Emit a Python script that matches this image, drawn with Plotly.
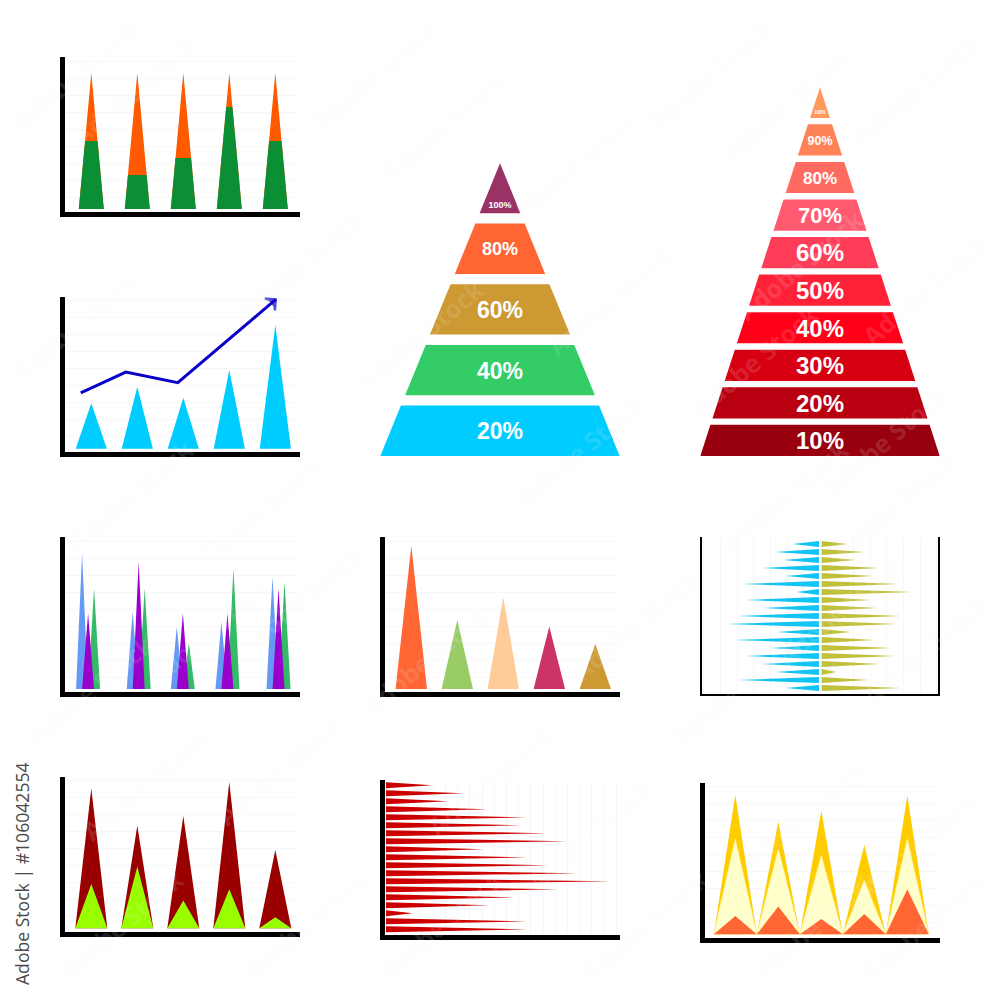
import plotly.graph_objects as go

# ---------- data ----------
cats = [1, 2, 3, 4, 5]

stack_green = [4, 2, 3, 6, 4]
stack_orange = [4, 6, 5, 2, 4]

trend_bars = [2.67, 3.65, 3.0, 4.63, 7.27]
trend_line_x = [0.77, 1.75, 2.88, 5.01]
trend_line_y = [3.29, 4.51, 3.88, 8.78]

group_pos = [0.93, 2.03, 2.99, 3.96, 5.07]
group_blue = [7.98, 4.55, 3.67, 3.96, 6.6]
group_purple = [4.45, 7.49, 4.45, 4.45, 5.92]
group_green = [5.92, 5.92, 2.69, 7.1, 6.31]

color_vals = [8.41, 4.06, 5.39, 3.67, 2.65]
color_cols = ["#ff6633", "#99cc66", "#ffcc99", "#cc3366", "#cc9933"]

nested_outer = [8.24, 6.04, 6.6, 8.6, 4.6]
nested_inner = [2.6, 3.63, 1.63, 2.3, 0.65]

red_bars = [3.79, 6.33, 5.1, 8.28, 11.5, 11.1, 13.2, 14.9, 8.0, 11.6, 13.3, 15.7,
            18.5, 14.1, 10.5, 8.4, 2.2, 11.6, 11.6]

butterfly_left = [2.15, 3.6, 2.9, 4.7, 2.7, 6.3, 1.83, 5.95, 4.55, 6.6, 7.55, 3.4,
                  7.0, 3.95, 6.0, 4.8, 3.55, 6.6, 2.7]
butterfly_right = [2.13, 3.5, 2.76, 4.69, 4.2, 6.27, 7.5, 4.0, 4.5, 6.54, 6.14, 2.39,
                   4.3, 5.7, 6.0, 4.76, 1.2, 3.86, 6.54]

mount_yellow = [8.2, 6.63, 7.27, 5.25, 8.16]
mount_pale = [5.6, 5.02, 4.63, 3.16, 5.6]
mount_orange = [1.08, 1.63, 0.9, 1.2, 2.65]

pyr5_labels = ["20%", "40%", "60%", "80%", "100%"]
pyr5_colors = ["#00ccff", "#33cc66", "#cc9933", "#ff6633", "#993366"]
pyr5_sizes = [23, 23, 23, 18, 9]

pyr10_labels = ["10%", "20%", "30%", "40%", "50%", "60%", "70%", "80%", "90%", "100%"]
pyr10_colors = ["#99000f", "#b80010", "#d60012", "#ff0018", "#ff2138", "#ff3d58",
                "#ff5a70", "#ff6b60", "#ff8258", "#ff9a5c"]
pyr10_sizes = [24, 24, 24, 24, 24, 24, 22, 17, 12.5, 4.5]

watermark_centres = [
    (375, 75), (710, 75), (75, 75), (445, 125), (575, 165), (785, 105), (915, 90),
    (135, 90), (75, 325), (300, 265), (610, 300), (420, 335), (800, 265), (925, 290),
    (755, 360), (885, 440), (130, 495), (260, 510), (580, 450), (895, 505), (785, 495),
    (635, 625), (425, 660), (210, 630), (300, 600), (90, 690), (735, 690), (840, 610),
    (925, 650), (490, 780), (145, 785), (280, 770), (590, 835), (805, 815), (915, 845),
    (120, 925), (305, 925), (440, 925), (645, 925), (815, 925), (925, 925),
]

# ---------- page geometry ----------
GRID = "#f7f7f7"
BLACK = "#000000"
UNIT = 17.0        # pixels per grid step in the vertical-value panels
fig = go.Figure()
layout = {}
n_axes = 0


def axes(left, right, top, bottom, xr, yr, visible=True, lw=4.5, xgrid=None, ygrid=None, mirror=False):
    global n_axes
    n_axes += 1
    s = "" if n_axes == 1 else str(n_axes)
    common = dict(showticklabels=False, ticks="", zeroline=False, showgrid=False,
                  fixedrange=True, visible=visible, showline=visible, linecolor=BLACK, linewidth=lw)
    xa = dict(common, domain=[left / 1000, right / 1000], range=xr, anchor="y" + s)
    ya = dict(common, domain=[1 - bottom / 1000, 1 - top / 1000], range=yr, anchor="x" + s)
    if xgrid:
        xa.update(showgrid=True, gridcolor=GRID, gridwidth=1, tick0=xgrid[0], dtick=xgrid[1])
    if ygrid:
        ya.update(showgrid=True, gridcolor=GRID, gridwidth=1, tick0=ygrid[0], dtick=ygrid[1])
    if mirror:
        ya.update(mirror=True)
    layout["xaxis" + s] = xa
    layout["yaxis" + s] = ya
    return "x" + s, "y" + s


def value_panel(left, top, bottom, base, right=None, first=None, step=46.0):
    """Panel with categories along x and value steps along y."""
    right = left + 235.5 if right is None else right
    first = left + 26.8 if first is None else first
    xr = [1 - (first - left) / step, 1 + (right - first) / step]
    yr = [(base - bottom) / UNIT, (base - top) / UNIT]
    return axes(left, right, top, bottom, xr, yr, ygrid=(0.69, 1))


def polys(xa, ya, xs, ys, color, line=None, lw=0):
    fig.add_trace(go.Scatter(x=xs, y=ys, xaxis=xa, yaxis=ya, mode="lines", fill="toself",
                             fillcolor=color, line=dict(color=line or color, width=lw),
                             hoverinfo="skip", showlegend=False))


def spikes(xa, ya, pos, vals, half, color, line=None, lw=0):
    xs, ys = [], []
    for p, v in zip(pos, vals):
        xs += [p - half, p, p + half, p - half, None]
        ys += [0, v, 0, 0, None]
    polys(xa, ya, xs, ys, color, line, lw)


def hspikes(xa, ya, vals, start, sign, color, half=0.375):
    xs, ys = [], []
    for i, v in enumerate(vals, 1):
        xs += [start, start + sign * v, start, start, None]
        ys += [i - half, i, i + half, i - half, None]
    polys(xa, ya, xs, ys, color)


def pyramid(left, right, top, bottom, pitch, labels, colors, sizes, low_label_frac=0.18):
    h = (bottom - top) / pitch
    band = 0.83
    xa, ya = axes(left, right, top, bottom, [-1, 1], [0, h], visible=False)
    half = lambda y: max(0.0, 1 - y / h)
    text_y = []
    for i, col in enumerate(colors):
        y0, y1 = i, min(i + band, h)
        polys(xa, ya, [-half(y0), half(y0), half(y1), -half(y1), -half(y0)], [y0, y0, y1, y1, y0], col)
        frac = low_label_frac if i == len(colors) - 1 else 0.5
        text_y.append(y0 + (y1 - y0) * frac - sizes[i] * 0.12 / pitch)
    fig.add_trace(go.Scatter(x=[0] * len(labels), y=text_y, xaxis=xa, yaxis=ya, mode="text", text=labels,
                             textposition="middle center",
                             textfont=dict(color="#ffffff", size=sizes, family="Liberation Sans", weight="bold"),
                             hoverinfo="skip", showlegend=False))


# ---------- panel 1: stacked spikes ----------
xa, ya = value_panel(64.5, 57, 212, 209)
half = 12.5 / 46
spikes(xa, ya, cats, [g + o for g, o in zip(stack_green, stack_orange)], half, "#ff5a00")
xs, ys = [], []
for c, g, o in zip(cats, stack_green, stack_orange):
    w = half * (1 - g / (g + o))
    xs += [c - half, c - w, c + w, c + half, c - half, None]
    ys += [0, g, g, 0, 0, None]
polys(xa, ya, xs, ys, "#0a8f35")

# ---------- panel 2: spikes with trend arrow ----------
xa, ya = value_panel(64.5, 297, 452.3, 448.7)
spikes(xa, ya, cats, trend_bars, 15.6 / 46, "#00ccff")
fig.add_trace(go.Scatter(x=trend_line_x, y=trend_line_y, xaxis=xa, yaxis=ya, mode="lines",
                         line=dict(color="#0a00c8", width=3),
                         hoverinfo="skip", showlegend=False))
fig.add_trace(go.Scatter(x=trend_line_x[-2:], y=trend_line_y[-2:], xaxis=xa, yaxis=ya, mode="markers",
                         marker=dict(symbol="arrow-wide-open", size=[0, 11], angleref="previous",
                                     color="#0a00c8", line=dict(width=2.5, color="#0a00c8")),
                         hoverinfo="skip", showlegend=False))

# ---------- panel 3: grouped spikes ----------
xa, ya = value_panel(64.5, 537, 692.3, 689)
off = 6 / 46
spikes(xa, ya, [p - off for p in group_pos], group_blue, off, "#6699f5")
spikes(xa, ya, [p + off for p in group_pos], group_green, off, "#33bb66")
spikes(xa, ya, group_pos, group_purple, off, "#9900cc")

# ---------- panel 4: nested spikes ----------
xa, ya = value_panel(64.5, 777, 932, 928.3)
spikes(xa, ya, cats, nested_outer, 16 / 46, "#990000")
spikes(xa, ya, cats, nested_inner, 16 / 46, "#99ff00")

# ---------- panel 5: coloured spikes ----------
xa, ya = value_panel(384.5, 537, 692.3, 689)
for c, v, col in zip(cats, color_vals, color_cols):
    spikes(xa, ya, [c], [v], 15.7 / 46, col)

# ---------- panel 6: horizontal red spikes ----------
xa, ya = axes(385, 620, 780, 935, [-0.08, 19.18], [19.71, 0.34], xgrid=(0.87, 1))
hspikes(xa, ya, red_bars, 0, 1, "#cc0000")

# ---------- panel 7: butterfly ----------
xa, ya = axes(701.7, 938.3, 537, 694, [-9.70, 9.65], [19.75, 0.125], lw=2,
              xgrid=(-8.16, 1.36), mirror=True)
hspikes(xa, ya, butterfly_left, -0.11, -1, "#11c4f2")
hspikes(xa, ya, butterfly_right, 0.11, 1, "#c0c03c")

# ---------- panel 8: overlapping mountains ----------
xa, ya = value_panel(704.5, 782.7, 938.3, 934.3, right=940, first=735.3, step=43.0)
spikes(xa, ya, cats, mount_yellow, 21.5 / 43, "#ffcc00")
spikes(xa, ya, cats, mount_pale, 21.5 / 43, "#ffffcc", line="#fff099", lw=0.8)
spikes(xa, ya, cats, mount_orange, 21.5 / 43, "#ff6633")

# ---------- pyramids ----------
pyramid(380.3, 619.7, 163.3, 456, 60.7, pyr5_labels, pyr5_colors, pyr5_sizes)
pyramid(700.3, 939.7, 87.3, 456, 37.56, pyr10_labels, pyr10_colors, pyr10_sizes)

# ---------- stock-photo texts ----------
annotations = [dict(text="Adobe Stock | #106042554", xref="paper", yref="paper", x=22 / 1000, y=1 - 874 / 1000,
                    xanchor="center", yanchor="middle",
                    showarrow=False, textangle=-90,
                    font=dict(family="Open Sans", size=17.6, color="#4a4a4a"))]
for cx, cy in watermark_centres:
    annotations.append(dict(text="Adobe Stock", xref="paper", yref="paper", x=cx / 1000, y=1 - cy / 1000,
                            xanchor="center", yanchor="middle",
                            showarrow=False, textangle=-40,
                            font=dict(family="Open Sans", size=25, weight="bold",
                                      color="rgba(255,255,255,0.15)",
                                      shadow="0px 0px 4px rgba(0,0,0,0.08)")))

fig.update_layout(width=1000, height=1000, margin=dict(l=0, r=0, t=0, b=0), showlegend=False,
                  paper_bgcolor="#ffffff", plot_bgcolor="rgba(0,0,0,0)",
                  annotations=annotations, **layout)

fig.write_html("out.html", config={"displayModeBar": False},
               post_script="document.body.style.margin='0';")
